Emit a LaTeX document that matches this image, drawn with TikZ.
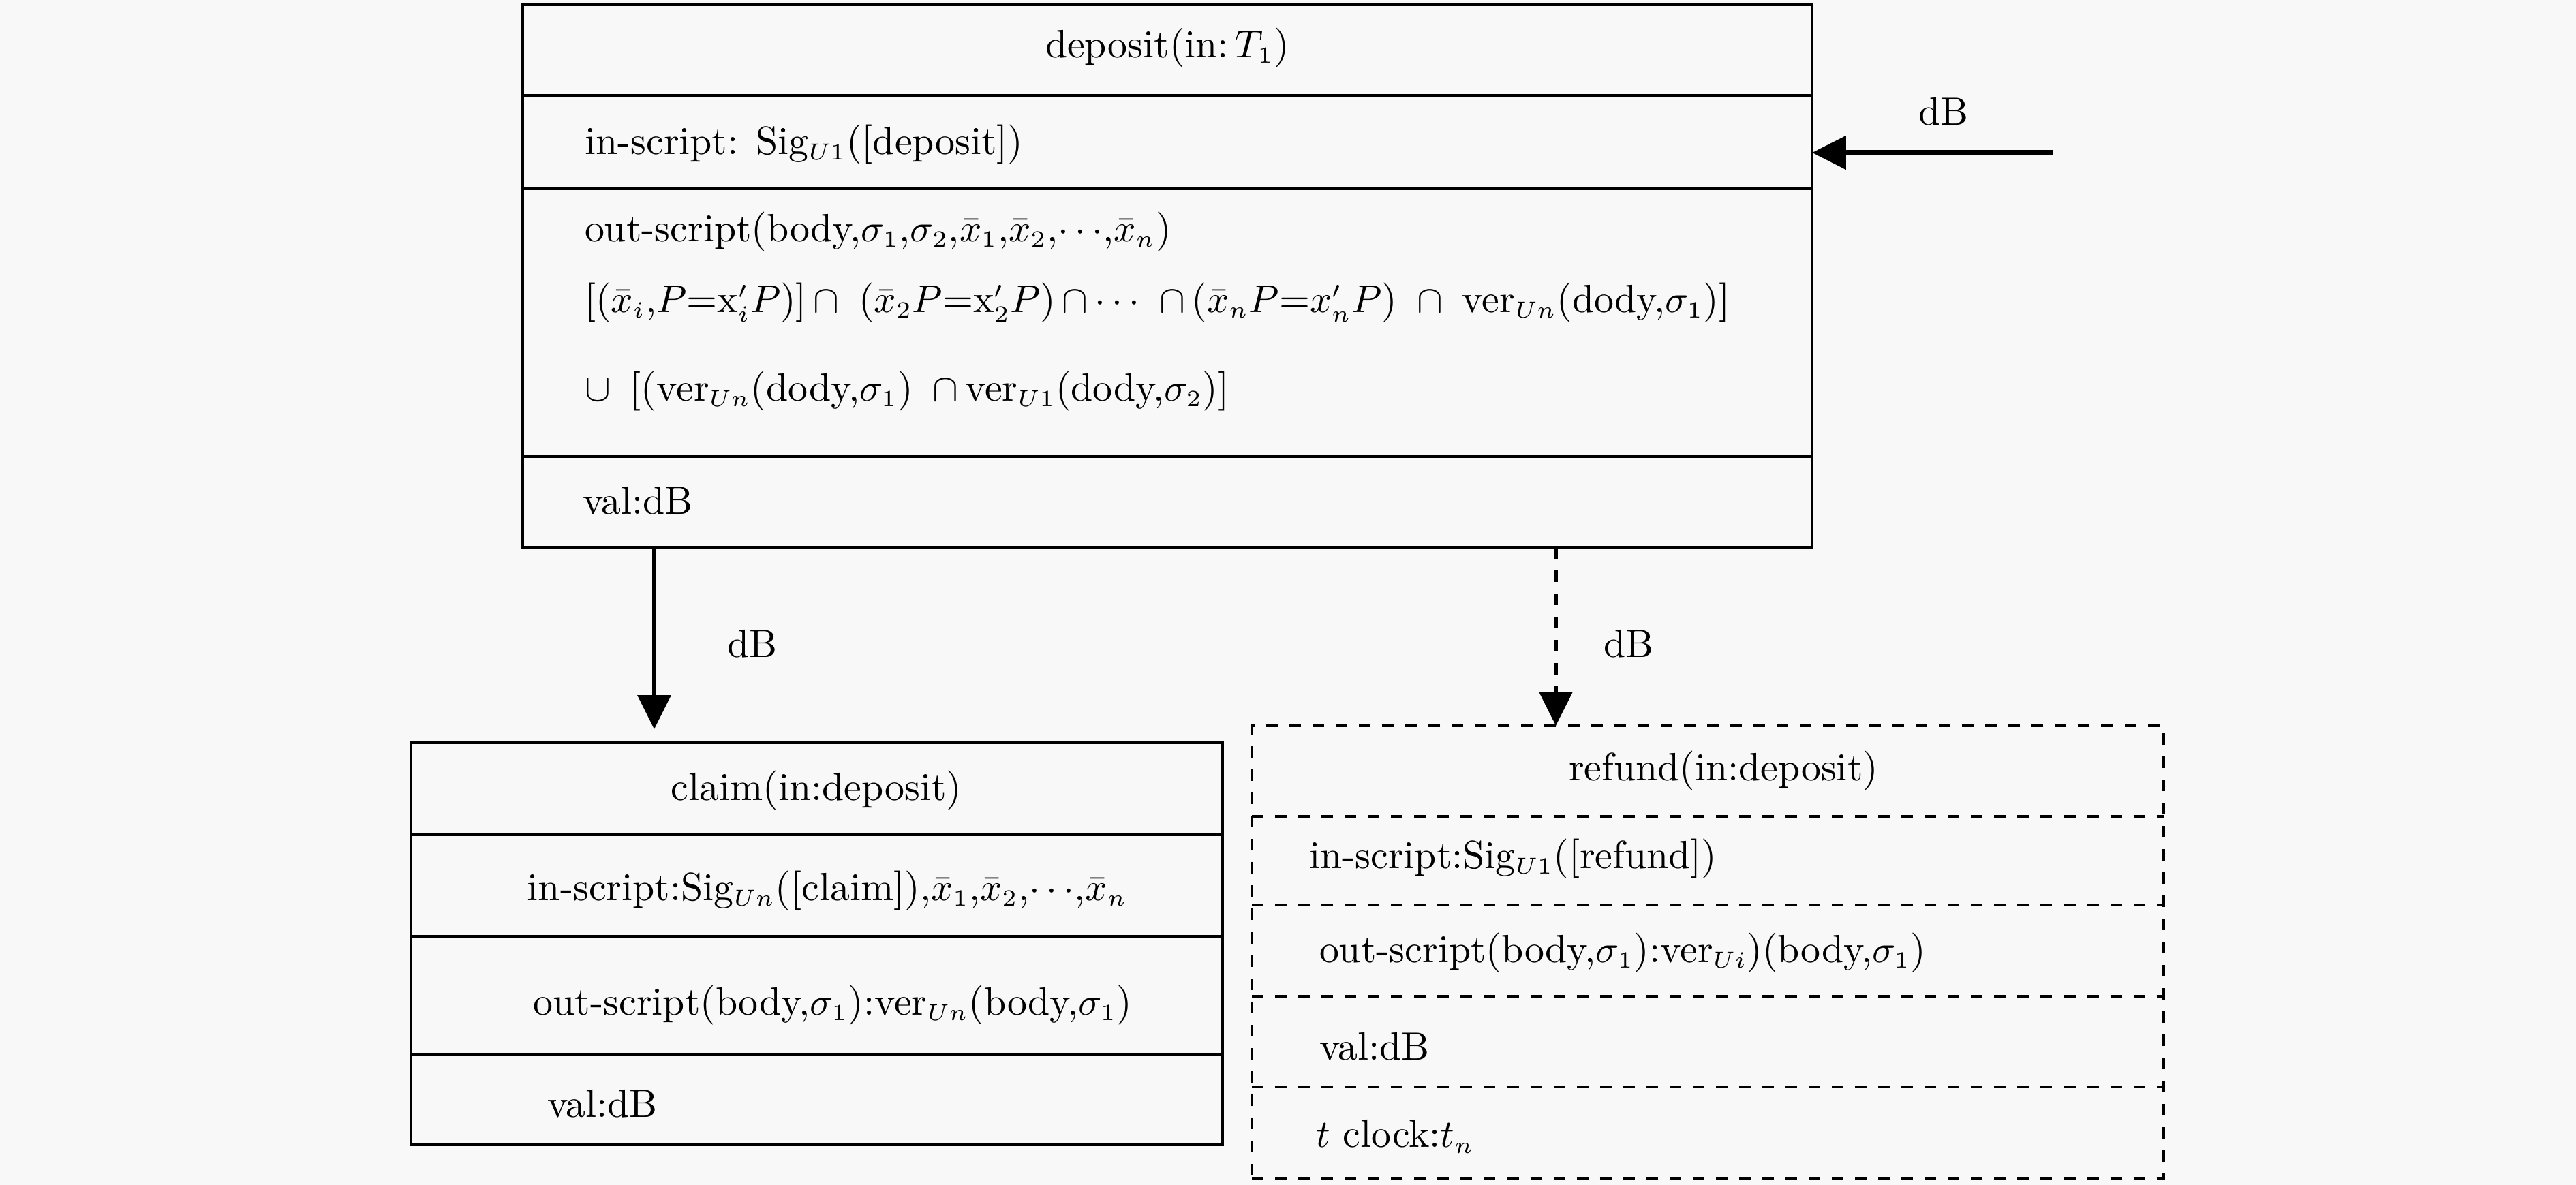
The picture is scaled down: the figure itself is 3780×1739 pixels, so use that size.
\documentclass[tikz,border=0pt]{standalone}
\usetikzlibrary{arrows.meta}
\DeclareMathSizes{10.2}{10.2}{6.3}{5}
\definecolor{bg}{HTML}{F8F8F8}
\begin{document}
\begin{tikzpicture}[x=0.0062cm,y=-0.0062cm,
  box/.style={draw, line width=0.7pt, inner sep=0pt, outer sep=0pt},
  dbox/.style={box, dashed},
  txt/.style={inner sep=0pt, outer sep=0pt, font=\fontsize{10.2}{12}\selectfont},
  arr/.style={-{Triangle[length=8.8pt,width=8.5pt]}, line width=1.1pt},
  divider/.style={line width=0.7pt}]
\fill[bg] (0,0) rectangle (3780,1739);
\useasboundingbox (0,0) rectangle (3780,1739);

% deposit box
\node[box, minimum width={1892*0.0062cm}, minimum height={796*0.0062cm}] (dep) at (1713,405) {};
\draw[divider] (dep.west |- 0,140) -- (dep.east |- 0,140);
\draw[divider] (dep.west |- 0,277) -- (dep.east |- 0,277);
\draw[divider] (dep.west |- 0,670) -- (dep.east |- 0,670);
\node[txt] (dep1) at (1713,70) {deposit(in:\,$T_1$)};
\node[txt, anchor=west] (dep2) at (858,212) {in-script: Sig$_{U1}$([deposit])};
\node[txt, anchor=west] (dep3) at (858,340) {out-script(body,$\sigma_1$,$\sigma_2$,$\bar{x}_1$,$\bar{x}_2$,$\cdots$,$\bar{x}_n$)};
\node[txt, anchor=west] (dep4) at (858,444) {[($\bar{x}_i$,$P$=x$'_iP$)]\,$\cap$\, ($\bar{x}_2P$=x$'_2P$)\,$\cap\cdots$\, $\cap$\,($\bar{x}_nP$=$x'_nP$)\, $\cap$\, ver$_{Un}$(dody,$\sigma_1$)]};
\node[txt, anchor=west] (dep5) at (858,574) {$\cup$\, [(ver$_{Un}$(dody,$\sigma_1$)\, $\cap$\,ver$_{U1}$(dody,$\sigma_2$)]};
\node[txt, anchor=west] (dep6) at (855,735) {val:dB};

% claim box
\node[box, minimum width={1191*0.0062cm}, minimum height={590*0.0062cm}] (claim) at (1198.5,1385) {};
\draw[divider] (claim.west |- 0,1225) -- (claim.east |- 0,1225);
\draw[divider] (claim.west |- 0,1374) -- (claim.east |- 0,1374);
\draw[divider] (claim.west |- 0,1548) -- (claim.east |- 0,1548);
\node[txt] (cl1) at (1198,1160) {claim(in:deposit)};
\node[txt] (cl2) at (1214,1307) {in-script:Sig$_{Un}$([claim]),$\bar{x}_1$,$\bar{x}_2$,$\cdots$,$\bar{x}_n$};
\node[txt] (cl3) at (1222,1475) {out-script(body,$\sigma_1$):ver$_{Un}$(body,$\sigma_1$)};
\node[txt, anchor=west] (cl4) at (803,1620) {val:dB};

% refund box
\node[dbox, minimum width={1338*0.0062cm}, minimum height={664*0.0062cm}] (ref) at (2506,1397) {};
\draw[divider, dashed] (ref.west |- 0,1198) -- (ref.east |- 0,1198);
\draw[divider, dashed] (ref.west |- 0,1328) -- (ref.east |- 0,1328);
\draw[divider, dashed] (ref.west |- 0,1462) -- (ref.east |- 0,1462);
\draw[divider, dashed] (ref.west |- 0,1595) -- (ref.east |- 0,1595);
\node[txt] (rf1) at (2529,1131) {refund(in:deposit)};
\node[txt, anchor=west] (rf2) at (1921,1260) {in-script:Sig$_{U1}$([refund])};
\node[txt, anchor=west] (rf3) at (1936,1398) {out-script(body,$\sigma_1$):ver$_{Ui}$)(body,$\sigma_1$)};
\node[txt, anchor=west] (rf4) at (1936,1536) {val:dB};
\node[txt, anchor=west] (rf5) at (1931,1668) {$t$ clock:$t_n$};

% arrows
\coordinate (insrc) at (3013,224);
\draw[arr, line width=1.3pt] (insrc) -- (dep.east |- insrc);
\node[txt] (lb0) at (2852,164) {dB};

\coordinate (a1s) at (960,803);
\coordinate (a1e) at (960,1070);
\draw[arr] (a1s) -- (a1e);
\node[txt] (lb1) at (1104,945) {dB};

\coordinate (a2s) at (2283,803);
\draw[arr, dashed] (a2s) -- (ref.north -| a2s);
\node[txt] (lb2) at (2390,945) {dB};
\end{tikzpicture}
\end{document}
